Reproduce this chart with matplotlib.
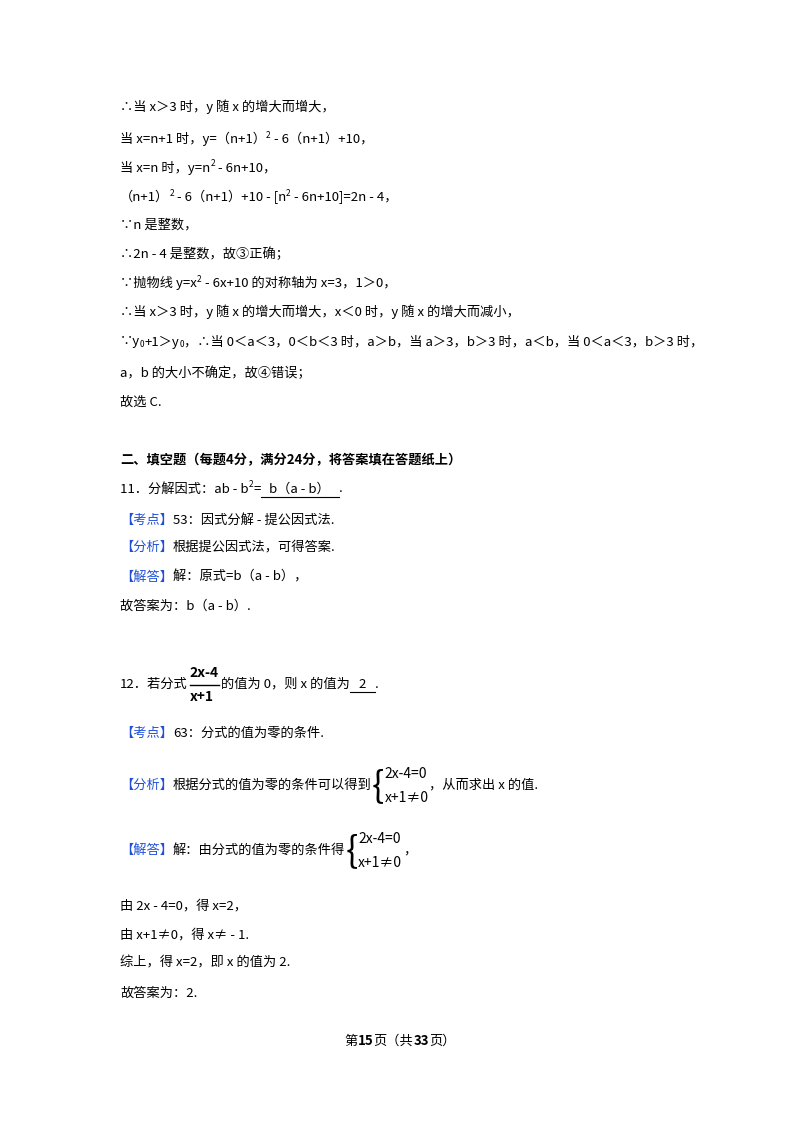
import matplotlib
matplotlib.use("Agg")
import matplotlib.pyplot as plt

plt.rcParams['font.family'] = ['Noto Sans CJK SC', 'DejaVu Sans']

W, H = 800, 1132
FS = 9.5
BLUE = '#1f4fd8'

# page lines: (y pixel, list of segments); segment = (text, kind)
lines = [
    (107, [("∴当 x＞3 时，y 随 x 的增大而增大，", "n")]),
    (139, [("当 x=n+1 时，y=（n+1）", "n"), ("2", "sup"), (" - 6（n+1）+10，", "n")]),
    (168, [("当 x=n 时，y=n", "n"), ("2", "sup"), (" - 6n+10，", "n")]),
    (197, [("（n+1）", "n"), ("2", "sup"), (" - 6（n+1）+10 - [n", "n"), ("2", "sup"), (" - 6n+10]=2n - 4，", "n")]),
    (225, [("∵n 是整数，", "n")]),
    (254, [("∴2n - 4 是整数，故③正确；", "n")]),
    (283, [("∵抛物线 y=x", "n"), ("2", "sup"), (" - 6x+10 的对称轴为 x=3，1＞0，", "n")]),
    (312, [("∴当 x＞3 时，y 随 x 的增大而增大，x＜0 时，y 随 x 的增大而减小，", "n")]),
    (342, [("∵y", "n"), ("0", "sub"), ("+1＞y", "n"), ("0", "sub"),
           ("，∴当 0＜a＜3，0＜b＜3 时，a＞b，当 a＞3，b＞3 时，a＜b，当 0＜a＜3，b＞3 时，", "n")]),
    (373, [("a，b 的大小不确定，故④错误；", "n")]),
    (402, [("故选 C.", "n")]),
    (460, [("二、填空题（每题4分，满分24分，将答案填在答题纸上）", "b")]),
    (489, [("11．分解因式：ab - b", "n"), ("2", "sup"), ("=", "n"), ("   b（a - b）   ", "u"), (".", "n")]),
    (520, [("【考点】", "blue"), ("53：因式分解 - 提公因式法.", "n")]),
    (547, [("【分析】", "blue"), ("根据提公因式法，可得答案.", "n")]),
    (577, [("【解答】", "blue"), ("解：原式=b（a - b），", "n")]),
    (606, [("故答案为：b（a - b）.", "n")]),
    (684, [("12．若分式", "n"), (("2x-4", "x+1"), "frac"), ("的值为 0，则 x 的值为", "n"), ("   2   ", "u"), (".", "n")]),
    (733, [("【考点】", "blue"), ("63：分式的值为零的条件.", "n")]),
    (785, [("【分析】", "blue"), ("根据分式的值为零的条件可以得到", "n"), (("2x-4=0", "x+1≠0"), "brace"), ("，从而求出 x 的值.", "n")]),
    (850, [("【解答】", "blue"), ("解：由分式的值为零的条件得", "n"), (("2x-4=0", "x+1≠0"), "brace"), ("，", "n")]),
    (906, [("由 2x - 4=0，得 x=2，", "n")]),
    (935, [("由 x+1≠0，得 x≠ - 1.", "n")]),
    (963, [("综上，得 x=2，即 x 的值为 2.", "n")]),
    (993, [("故答案为：2.", "n")]),
]

footer = [("第", "n"), ("15", "b"), ("页（共", "n"), ("33", "b"), ("页）", "n")]

fig = plt.figure(figsize=(W / 100, H / 100), dpi=100)
fig.patch.set_facecolor('white')
r = fig.canvas.get_renderer()


def put(x, y, s, **kw):
    t = fig.text(x / W, 1 - y / H, s, va='center', ha='left', fontsize=kw.pop('fontsize', FS), **kw)
    bb = t.get_window_extent(renderer=r)
    return bb.width


def draw(x, y, segs):
    for s, kind in segs:
        if kind == "n":
            x += put(x, y, s)
        elif kind == "b":
            x += put(x, y, s, fontweight='bold')
        elif kind == "blue":
            x += put(x, y, s, color=BLUE)
        elif kind == "sup":
            x += put(x, y - 4, s, fontsize=6)
        elif kind == "sub":
            x += put(x, y + 3, s, fontsize=6)
        elif kind == "u":
            w = put(x, y, s)
            fig.add_artist(plt.Line2D([x / W, (x + w) / W], [1 - (y + 8) / H] * 2, color='black', lw=0.8))
            x += w
        elif kind == "frac":
            num, den = s
            w1 = put(x + 2, y - 11, num, fontweight='bold', fontsize=10)
            put(x + 2, y + 13, den, fontweight='bold', fontsize=10)
            fig.add_artist(plt.Line2D([(x + 2) / W, (x + 2 + w1) / W], [1 - (y + 1) / H] * 2, color='black', lw=1))
            x += w1 + 4
        elif kind == "brace":
            a, b = s
            put(x, y + 1, "{", fontsize=26, fontweight='light')
            w1 = put(x + 13, y - 11, a, fontsize=10)
            put(x + 13, y + 13, b, fontsize=10)
            x += w1 + 15
    return x


for y, segs in lines:
    draw(120, y, segs)

# center footer
tmp = fig.text(0, 0, "第15页（共33页）", fontsize=FS, fontweight='bold')
fw = tmp.get_window_extent(renderer=r).width
tmp.remove()
draw(400 - fw / 2, 1041, footer)

fig.savefig("out.png", dpi=100, facecolor='white')
